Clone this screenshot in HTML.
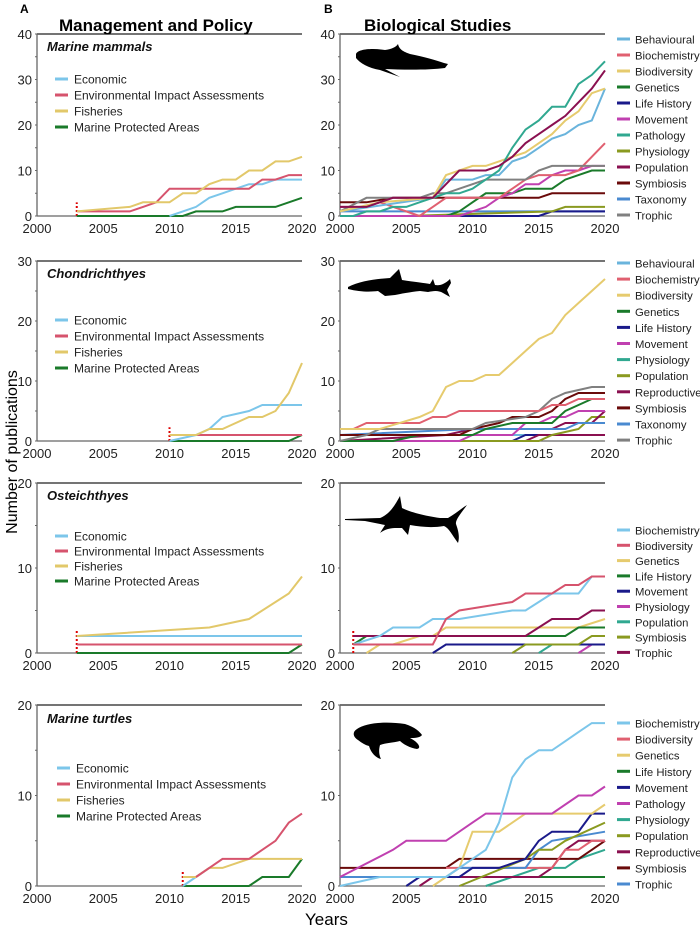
<!DOCTYPE html>
<html><head><meta charset="utf-8"><style>
body{margin:0;background:#fff;width:700px;height:928px;overflow:hidden}
svg text{font-family:"Liberation Sans",sans-serif}
</style></head><body>
<svg id="s" width="700" height="928" xmlns="http://www.w3.org/2000/svg"></svg>
<script>
const S=document.getElementById('s');let h='';
const C={Economic:'#7cc6ea',EIA:'#d6536d',Fisheries:'#e2c86a',MPA:'#1a7a2a',
Behavioural:'#6ab4dc',Biochemistry:'#e06070',Biodiversity:'#e6cb6e',Genetics:'#1a7a2a','Life History':'#1a1a8a',Movement:'#c040b0',Pathology:'#30a890',Physiology:'#8a9a20',Population:'#8a1050',Symbiosis:'#6a0a0a',Taxonomy:'#4a8ad0',Trophic:'#808080',Reproductive:'#8a1050'};
function panel(x0,x1,top,bot,ymax,tickStep,series,dot){
 const sx=y=>x0+(y-2000)*(x1-x0)/20, sy=v=>bot-v*(bot-top)/ymax;
 h+=`<line x1="${x0}" y1="${top}" x2="${x1}" y2="${top}" stroke="#222" stroke-width="1.3"/>`;
 h+=`<line x1="${x0}" y1="${top}" x2="${x0}" y2="${bot}" stroke="#666" stroke-width="1.3"/>`;
 h+=`<line x1="${x0}" y1="${bot}" x2="${x1}" y2="${bot}" stroke="#666" stroke-width="1.3"/>`;
 for(let v=0;v<=ymax;v+=tickStep/2){const y=sy(v);h+=`<line x1="${x0-2}" y1="${y}" x2="${x0}" y2="${y}" stroke="#666"/>`;}
 for(let v=0;v<=ymax;v+=tickStep){h+=`<text x="${x0-5}" y="${sy(v)+5}" font-size="13" text-anchor="end" fill="#222">${v}</text>`;}
 for(let y=2000;y<=2020;y+=5){h+=`<text x="${sx(y)}" y="${bot+17}" font-size="13" text-anchor="middle" fill="#222">${y}</text>`;}
 if(dot)h+=`<line x1="${sx(dot[0])}" y1="${bot}" x2="${sx(dot[0])}" y2="${sy(dot[1])}" stroke="#d00" stroke-width="2" stroke-dasharray="2,2"/>`;
 for(const [n,d] of series){let p=[];for(let i=0;i<d.length;i+=2)p.push(sx(d[i]).toFixed(1)+','+sy(d[i+1]).toFixed(1));
  h+=`<polyline points="${p.join(' ')}" fill="none" stroke="${C[n]}" stroke-width="2"/>`;}
}
function legL(x,y,step,names){names.forEach((n,i)=>{const yy=y+i*step;h+=`<line x1="${x}" y1="${yy}" x2="${x+13}" y2="${yy}" stroke="${C[n]}" stroke-width="3"/><text x="${x+19}" y="${yy+4.5}" font-size="12" fill="#222">${n=='EIA'?'Environmental Impact Assessments':n=='MPA'?'Marine Protected Areas':n}</text>`;});}
function legR(y,step,names,cols){names.forEach((n,i)=>{const yy=y+i*step;h+=`<line x1="617" y1="${yy}" x2="630" y2="${yy}" stroke="${cols?cols[i]:C[n]}" stroke-width="3"/><text x="635" y="${yy+4.5}" font-size="11.3" fill="#222">${n}</text>`;});}
const L0=37,L1=302,R0=340,R1=605;
panel(L0,L1,34,216,40,10,[
['MPA',[2003,0,2011,0,2012,1,2014,1,2015,2,2018,2,2020,4]],
['Economic',[2010,0,2011,1,2012,2,2013,4,2014,5,2015,6,2016,7,2017,7,2018,8,2020,8]],
['EIA',[2003,1,2007,1,2008,2,2009,3,2010,6,2016,6,2017,8,2018,8,2019,9,2020,9]],
['Fisheries',[2003,1,2007,2,2008,3,2010,3,2011,5,2012,5,2013,7,2014,8,2015,8,2016,10,2017,10,2018,12,2019,12,2020,13]]],[2003,3]);
panel(R0,R1,34,216,40,10,[
['Taxonomy',[2000,1,2020,1]],['Life History',[2000,0,2015,0,2016,1,2020,1]],['Physiology',[2000,0,2004,0,2005,0,2016,1,2017,2,2020,2]],
['Symbiosis',[2000,3,2002,3,2004,4,2015,4,2016,5,2020,5]],
['Genetics',[2000,0,2008,0,2009,1,2010,3,2011,5,2013,5,2014,6,2016,6,2017,8,2018,9,2019,10,2020,10]],
['Movement',[2000,0,2009,0,2010,1,2011,2,2012,4,2013,5,2014,7,2015,7,2016,9,2017,10,2018,10,2019,11,2020,11]],
['Biochemistry',[2000,2,2002,2,2003,3,2006,0,2007,2,2008,4,2012,4,2013,6,2014,8,2015,9,2017,9,2018,10,2019,13,2020,16]],
['Trophic',[2000,1,2002,4,2006,4,2007,5,2008,5,2009,6,2010,7,2011,8,2014,8,2015,10,2016,11,2020,11]],
['Behavioural',[2000,1,2007,4,2008,8,2010,8,2011,9,2012,9,2013,12,2014,13,2015,15,2016,17,2017,18,2018,20,2019,21,2020,28]],
['Biodiversity',[2000,1,2003,3,2007,4,2008,9,2009,10,2010,11,2011,11,2012,12,2013,13,2014,14,2015,16,2016,18,2017,21,2018,23,2019,27,2020,28]],
['Pathology',[2000,0,2001,0,2002,1,2003,1,2004,2,2005,2,2006,3,2007,4,2008,5,2009,5,2010,6,2011,8,2012,10,2013,15,2014,19,2015,21,2016,24,2017,24,2018,29,2019,31,2020,34]],
['Population',[2000,2,2002,2,2003,3,2004,4,2007,4,2008,7,2009,10,2011,10,2012,11,2013,13,2014,16,2015,18,2016,20,2017,22,2018,25,2019,28,2020,32]]]);
panel(L0,L1,261,441,30,10,[
['MPA',[2010,0,2019,0,2020,1]],['EIA',[2010,1,2020,1]],
['Economic',[2010,0,2012,1,2013,2,2014,4,2016,5,2017,6,2020,6]],
['Fisheries',[2010,1,2012,1,2013,2,2014,2,2016,4,2017,4,2018,5,2019,8,2020,13]]],[2010,2.3]);
panel(R0,R1,261,441,30,10,[
['Behavioural',[2000,1,2020,1]],['Life History',[2013,0,2014,1,2020,1]],['Reproductive',[2014,0,2015,1,2020,1]],
['Physiology',[2000,0,2015,0,2016,1,2018,2,2019,4,2020,4]],['Population',[2000,0,2008,1,2010,2,2016,2,2017,3,2019,3,2020,5]],
['Taxonomy',[2000,1,2010,2,2017,2,2018,3,2020,3]],['Movement',[2000,0,2009,0,2010,1,2013,1,2014,3,2015,3,2016,4,2017,4,2018,5,2020,5]],
['Genetics',[2000,0,2004,0,2006,1,2010,1,2011,2,2013,3,2016,3,2017,5,2018,6,2019,7,2020,7]],
['Symbiosis',[2000,1,2009,1,2010,2,2012,3,2013,4,2015,4,2016,5,2017,7,2018,8,2020,8]],
['Trophic',[2000,0,2002,1,2003,2,2010,2,2011,3,2014,4,2015,5,2016,7,2017,8,2019,9,2020,9]],
['Biochemistry',[2000,2,2001,2,2002,3,2006,3,2007,4,2008,4,2009,5,2015,5,2016,6,2017,6,2018,7,2020,7]],
['Biodiversity',[2000,2,2003,2,2006,4,2007,5,2008,9,2009,10,2010,10,2011,11,2012,11,2013,13,2014,15,2015,17,2016,18,2017,21,2018,23,2019,25,2020,27]]]);
panel(L0,L1,483,653,20,10,[
['MPA',[2003,0,2019,0,2020,1]],['EIA',[2003,1,2020,1]],['Economic',[2003,2,2020,2]],
['Fisheries',[2003,2,2013,3,2016,4,2019,7,2020,9]]],[2003,2.6]);
const c3=['#7cc6ea','#d6536d','#e6cb6e','#1a7a2a','#1a1a8a','#c040b0','#30a890','#8a9a20','#8a1050'];
C.B3=c3[0];C.Bd3=c3[1];C.G3=c3[2];C.L3=c3[3];C.M3=c3[4];C.Ph3=c3[5];C.Po3=c3[6];C.S3=c3[7];C.T3=c3[8];
panel(R0,R1,483,653,20,10,[
['Ph3',[2018,0,2019,1,2020,1]],['Po3',[2015,0,2016,1,2020,1]],['M3',[2007,0,2008,1,2020,1]],
['S3',[2013,0,2014,1,2018,1,2019,2,2020,2]],['G3',[2002,0,2003,1,2004,1,2006,2,2007,2,2008,3,2018,3,2020,4]],
['L3',[2001,1,2002,2,2017,2,2018,3,2020,3]],['T3',[2001,2,2014,2,2016,4,2018,4,2019,5,2020,5]],
['B3',[2001,1,2003,2,2004,3,2006,3,2007,4,2009,4,2013,5,2014,5,2016,7,2018,7,2019,9,2020,9]],
['Bd3',[2001,1,2007,1,2008,4,2009,5,2013,6,2014,7,2016,7,2017,8,2018,8,2019,9,2020,9]]],[2001,2.7]);
panel(L0,L1,705,886,20,10,[
['MPA',[2011,0,2016,0,2017,1,2019,1,2020,3]],['Economic',[2011,0,2012,1,2013,2]],
['Fisheries',[2011,1,2012,1,2013,2,2014,2,2016,3,2020,3]],
['EIA',[2012,1,2013,2,2014,3,2016,3,2017,4,2018,5,2019,7,2020,8]]],[2011,1.6]);
const c4=['#7cc6ea','#e06070','#e6cb6e','#1a7a2a','#1a1a8a','#c040b0','#30a890','#8a9a20','#8a1050','#6a0a0a','#4a8ad0'];
['B4','Bd4','G4','L4','M4','Pa4','Ph4','Po4','R4','S4','T4'].forEach((k,i)=>C[k]=c4[i]);
panel(R0,R1,705,886,20,10,[
['L4',[2000,1,2020,1]],['Ph4',[2011,0,2015,2,2017,2,2018,3,2020,4]],
['S4',[2000,2,2008,2,2009,3,2018,3,2020,5]],['R4',[2006,0,2007,1,2015,1,2016,2,2017,4,2018,5,2020,5]],
['Bd4',[2008,2,2016,2,2017,4,2018,4,2019,5,2020,5]],['T4',[2000,1,2008,1,2009,2,2014,2,2015,4,2016,5,2020,6]],
['Po4',[2009,0,2014,3,2015,4,2016,4,2017,5,2020,7]],
['M4',[2005,0,2006,1,2009,1,2010,2,2012,2,2014,3,2015,5,2016,6,2018,6,2019,8,2020,8]],
['G4',[2007,0,2008,1,2009,2,2010,6,2012,6,2014,8,2019,8,2020,9]],
['Pa4',[2000,1,2004,4,2005,5,2008,5,2010,7,2011,8,2016,8,2018,10,2019,10,2020,11]],
['B4',[2000,0,2003,1,2008,1,2010,3,2011,4,2012,7,2013,12,2014,14,2015,15,2016,15,2017,16,2018,17,2019,18,2020,18]]]);
const LL=['Economic','EIA','Fisheries','MPA'];
legL(55,79,16,LL);legL(55,320,16,LL);legL(55,536,15,LL);legL(57,768,16,LL);
legR(39,16,['Behavioural','Biochemistry','Biodiversity','Genetics','Life History','Movement','Pathology','Physiology','Population','Symbiosis','Taxonomy','Trophic']);
legR(263,16.1,['Behavioural','Biochemistry','Biodiversity','Genetics','Life History','Movement','Physiology','Population','Reproductive','Symbiosis','Taxonomy','Trophic'],['#6ab4dc','#e06070','#e6cb6e','#1a7a2a','#1a1a8a','#c040b0','#30a890','#8a9a20','#8a1050','#6a0a0a','#4a8ad0','#808080']);
legR(530,15.3,['Biochemistry','Biodiversity','Genetics','Life History','Movement','Physiology','Population','Symbiosis','Trophic'],c3);
legR(723,16.1,['Biochemistry','Biodiversity','Genetics','Life History','Movement','Pathology','Physiology','Population','Reproductive','Symbiosis','Trophic'],c4);
[['Marine mammals',51],['Chondrichthyes',278],['Osteichthyes',500],['Marine turtles',723]].forEach(([t,y])=>h+=`<text x="47" y="${y}" font-size="13" font-weight="bold" font-style="italic" fill="#111">${t}</text>`);
h+=`<text x="20" y="13" font-size="12" font-weight="bold">A</text><text x="324" y="13" font-size="12" font-weight="bold">B</text>`;
h+=`<text x="59" y="31" font-size="17" font-weight="bold">Management and Policy</text><text x="364" y="31" font-size="17" font-weight="bold">Biological Studies</text>`;
h+=`<text x="305" y="925" font-size="17">Years</text>`;
h+=`<text transform="translate(17,452) rotate(-90)" font-size="16" text-anchor="middle">Number of publications</text>`;
h+=`<path d="M356,54 C358,49 372,48 385,50 C392,49 396,47 398,44 C399,48 401,51 410,54 C425,57 435,60 444,63 L448,64 L445,68 C430,70 405,70 385,69 L400,77 L380,70 C368,68 360,63 356,58 Z" fill="#000"/>`;
h+=`<path d="M348,287 C360,281 375,279 390,278 L399,269 L402,280 C415,282 425,283 430,284 L433,279 L435,285 C440,286 445,284 450,279 L451,283 L447,290 L450,297 L443,293 C438,290 433,291 428,292 L420,291 C410,292 400,294 395,295 L385,296 L378,291 C370,292 360,292 348,289 Z" fill="#000"/>`;
h+=`<path d="M345,519 L380,518 C390,514 395,505 400,496 L402,508 C410,512 425,516 440,518 L448,518 C455,514 462,508 467,505 C462,512 455,520 456,524 C458,530 460,536 458,543 C452,535 449,528 444,526 C432,528 422,527 410,525 L408,535 L402,528 C395,528 388,527 380,533 L385,525 L365,521 L345,520 Z" fill="#000"/>`;
h+=`<path d="M357,729 C365,723 385,721 405,724 C415,727 420,732 422,735 C420,738 414,738 410,738 C418,742 422,748 417,749 C410,748 403,744 400,741 C392,743 385,743 380,745 C378,752 380,757 381,759 C376,758 371,753 369,746 C365,745 362,743 358,740 C353,737 352,732 357,729 Z" fill="#000"/>`;
S.innerHTML=h;
</script>
</body></html>
